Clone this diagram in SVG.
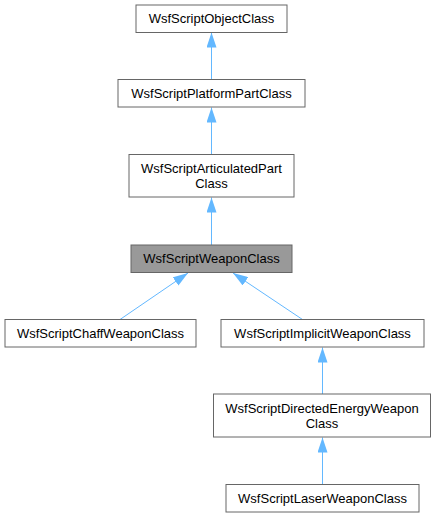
<svg xmlns="http://www.w3.org/2000/svg" width="436" height="517" viewBox="0 0 436 517">
<style>
.n rect{fill:#ffffff;stroke:#666666;stroke-width:1}
.n.cur rect{fill:#999999}
.n text{font-family:"Liberation Sans",Arial,sans-serif;font-size:13px;fill:#000000;text-anchor:middle}
.e line{stroke:#63b8ff;stroke-width:1;fill:none}
</style>
<defs>
<marker id="ah" markerUnits="userSpaceOnUse" markerWidth="15" markerHeight="10" refX="15" refY="5" orient="auto">
<path d="M0,0 L15,5 L0,10 z" fill="#63b8ff"/>
</marker>
</defs>
<rect width="436" height="517" fill="#ffffff"/>
<g id="edges" class="e">
<line x1="211.5" y1="79" x2="211.5" y2="32.5" marker-end="url(#ah)"/>
<line x1="211.5" y1="154.5" x2="211.5" y2="107.5" marker-end="url(#ah)"/>
<line x1="211.5" y1="245" x2="211.5" y2="197.5" marker-end="url(#ah)"/>
<line x1="120" y1="319.5" x2="188" y2="273" marker-end="url(#ah)"/>
<line x1="302.5" y1="319.5" x2="233" y2="273" marker-end="url(#ah)"/>
<line x1="322.5" y1="394" x2="322.5" y2="347.5" marker-end="url(#ah)"/>
<line x1="322.5" y1="484.5" x2="322.5" y2="437.5" marker-end="url(#ah)"/>
</g>
<g id="node1" class="n"><rect x="136" y="5" width="151" height="27.5"/><text x="211.5" y="23">WsfScriptObjectClass</text></g>
<g id="node2" class="n"><rect x="118" y="79.5" width="187" height="27.5"/><text x="211.5" y="98">WsfScriptPlatformPartClass</text></g>
<g id="node3" class="n"><rect x="129" y="154.5" width="165" height="42.5"/><text x="211.5" y="173">WsfScriptArticulatedPart</text><text x="211.5" y="188">Class</text></g>
<g id="node4" class="n cur"><rect x="131" y="245" width="161" height="27.5"/><text x="211.5" y="263">WsfScriptWeaponClass</text></g>
<g id="node5" class="n"><rect x="5" y="319.5" width="191" height="27.5"/><text x="100.5" y="338">WsfScriptChaffWeaponClass</text></g>
<g id="node6" class="n"><rect x="221" y="319.5" width="203" height="27.5"/><text x="322.5" y="338">WsfScriptImplicitWeaponClass</text></g>
<g id="node7" class="n"><rect x="213.5" y="394" width="217" height="43"/><text x="322" y="413">WsfScriptDirectedEnergyWeapon</text><text x="322" y="428">Class</text></g>
<g id="node8" class="n"><rect x="226" y="484.5" width="193" height="27.5"/><text x="322.5" y="503">WsfScriptLaserWeaponClass</text></g>
</svg>
